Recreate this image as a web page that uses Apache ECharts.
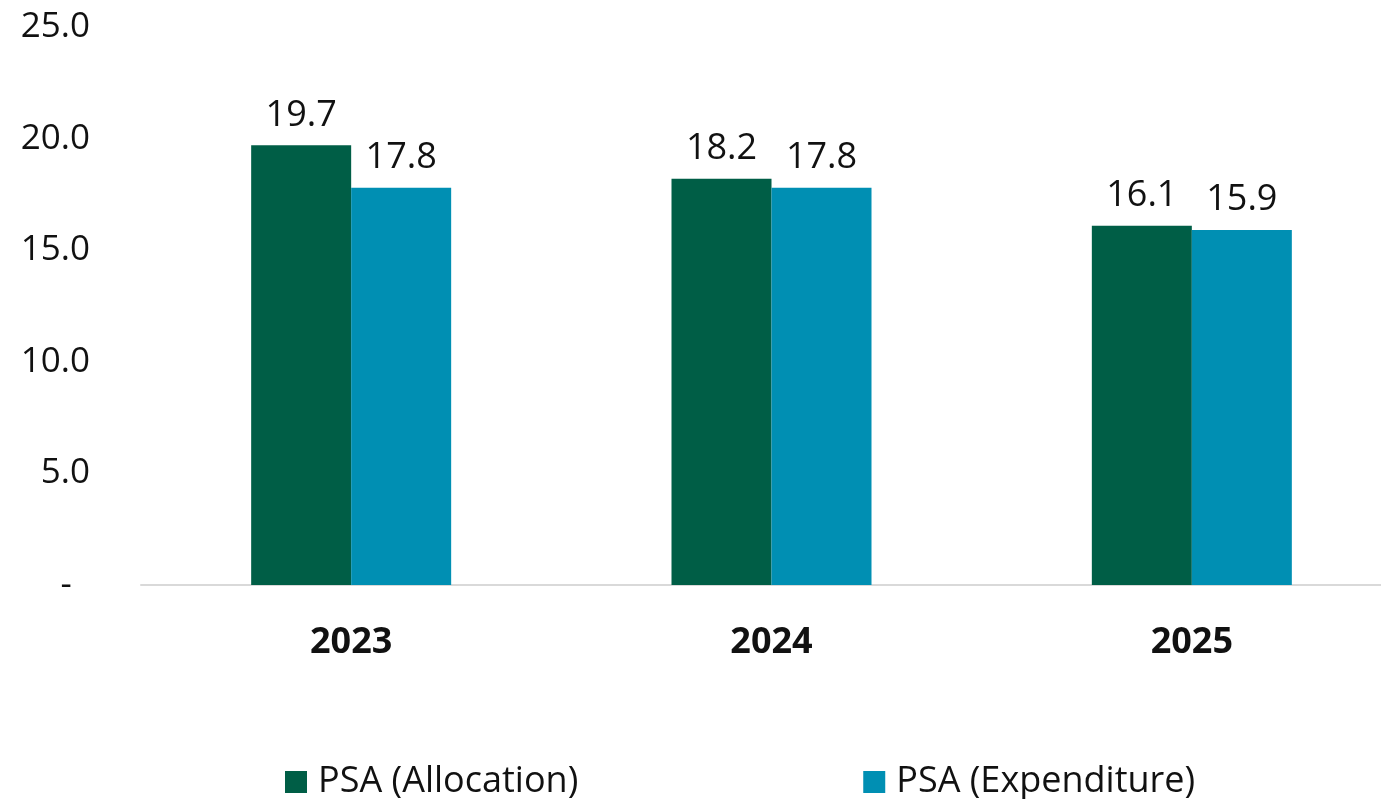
<!DOCTYPE html>
<html><head><meta charset="utf-8">
<script src="https://cdn.jsdelivr.net/npm/echarts@6/dist/echarts.min.js"></script>
<style>html,body{margin:0;padding:0;background:#fff;overflow:hidden;width:1381px;height:799px}#c{width:1402px;height:799px}</style>
</head><body><div id="c"></div>
<script>
const categories = ['2023', '2024', '2025'];
const allocation = [19.7, 18.2, 16.1];
const expenditure = [17.8, 17.8, 15.9];
const seriesNames = ['PSA (Allocation)', 'PSA (Expenditure)'];
const yTicks = [0, 5, 10, 15, 20, 25];

const chart = echarts.init(document.getElementById('c'));
const font = '"Open Sans", sans-serif';
const lbl = {show: true, position: 'top', distance: 12, color: '#111', fontSize: 36, fontFamily: font,
  formatter: p => p.value.toFixed(1)};
chart.setOption({
  animation: false,
  grid: {left: 141, right: 0, top: 27, bottom: 214, containLabel: false},
  legend: {
    top: 764, left: 285, padding: 0, itemWidth: 22, itemHeight: 22, itemGap: 285,
    icon: 'rect',
    textStyle: {fontSize: 36, lineHeight: 36, fontFamily: font, color: '#111', padding: [0, 0, 0, 6]},
    data: seriesNames
  },
  xAxis: {
    type: 'category', data: categories,
    axisLine: {lineStyle: {color: '#d9d9d9', width: 2}},
    axisTick: {show: false},
    axisLabel: {fontSize: 36, fontWeight: 'bold', fontFamily: font, color: '#111', margin: 40}
  },
  yAxis: {
    type: 'value', min: yTicks[0], max: yTicks[yTicks.length - 1], interval: 5,
    splitLine: {show: false}, axisLine: {show: false}, axisTick: {show: false},
    axisLabel: {fontSize: 35, fontFamily: font, color: '#111', margin: 51,
      formatter: v => v === 0 ? '-  ' : v.toFixed(1)}
  },
  series: [
    {name: seriesNames[0], type: 'bar', data: allocation, barWidth: 100, barGap: '0%',
      itemStyle: {color: '#005E46'}, label: lbl},
    {name: seriesNames[1], type: 'bar', data: expenditure, barWidth: 100,
      itemStyle: {color: '#008FB3'}, label: lbl}
  ]
});
</script></body></html>
